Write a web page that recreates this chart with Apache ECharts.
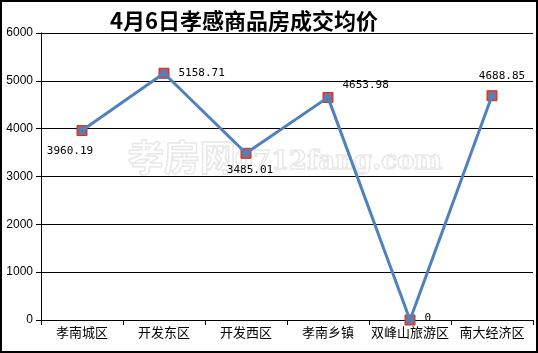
<!DOCTYPE html>
<html><head><meta charset="utf-8">
<script src="https://cdn.jsdelivr.net/npm/echarts@6/dist/echarts.min.js"></script>
<style>html,body{margin:0;padding:0;background:#fff}#c{width:538px;height:353px;box-sizing:border-box;border:2px solid #000}</style>
</head><body><div id="c"></div>
<script>
const titleText = '4月6日孝感商品房成交均价';
const categories = ['孝南城区','开发东区','开发西区','孝南乡镇','双峰山旅游区','南大经济区'];
const values = [3960.19, 5158.71, 3485.01, 4653.98, 0, 4688.85];
const labelTexts = ['3960.19','5158.71','3485.01','4653.98','0','4688.85'];
const labelPlaces = [
  {position:'bottom', offset:[-12,7]},
  {position:'right', offset:[6,0]},
  {position:'bottom', offset:[4,3]},
  {position:'right', offset:[6,-12]},
  {position:'right', offset:[6,-2]},
  {position:'top', offset:[10,-6]}
];
const chart = echarts.init(document.getElementById('c'));
const mono = 'DejaVu Sans Mono, monospace';
chart.setOption({
  animation:false,
  title:{text:titleText,left:103,top:3,textStyle:{fontFamily:'Noto Sans CJK SC',fontWeight:'bold',fontSize:22,color:'#000',textShadowColor:'#1f3a7a',textShadowOffsetX:1,textShadowOffsetY:1,textShadowBlur:0}},
  grid:{left:39,right:3,top:31,bottom:31,containLabel:false},
  graphic:[{type:'text',left:125,top:137,z:0,style:{text:'孝房网',font:'bold 36px "Noto Sans CJK SC"',fill:'rgba(255,255,255,0)',stroke:'#e8e8e8',lineWidth:1.5}},
           {type:'text',left:232,top:146,z:0,style:{text:'0712fang.com',font:'bold 26px "DejaVu Serif"',fill:'rgba(255,255,255,0)',stroke:'#e8e8e8',lineWidth:1.5}}],
  xAxis:{type:'category',data:categories,boundaryGap:true,
    axisLine:{lineStyle:{color:'#000',width:1}},
    axisTick:{show:true,alignWithLabel:false,length:5,lineStyle:{color:'#000'}},
    axisLabel:{color:'#000',fontSize:13,fontFamily:'Noto Sans CJK SC',margin:6,interval:0},
    splitLine:{show:false}},
  yAxis:{type:'value',min:0,max:6000,interval:1000,
    axisLine:{show:true,lineStyle:{color:'#000',width:1}},
    axisTick:{show:true,length:5,lineStyle:{color:'#000'}},
    axisLabel:{color:'#000',fontSize:12,fontFamily:'Liberation Sans',margin:8,formatter:v=>String(v)},
    splitLine:{show:true,lineStyle:{color:'#000',width:1}}},
  series:[
    {type:'line',data:values,symbol:'rect',symbolSize:10,z:2,
      lineStyle:{width:0,opacity:0},
      itemStyle:{color:'#D0504D',borderColor:'#B03A37',borderWidth:1},
      label:{show:false}},
    {type:'line',data:values.map((v,i)=>({value:v,label:Object.assign({show:true,formatter:labelTexts[i],color:'#000',fontFamily:mono,fontSize:11},labelPlaces[i])})),
      symbol:'circle',symbolSize:7,z:3,
      lineStyle:{color:'#4F81BD',width:3},
      itemStyle:{color:'#4F81BD'}}
  ]
});
</script></body></html>
